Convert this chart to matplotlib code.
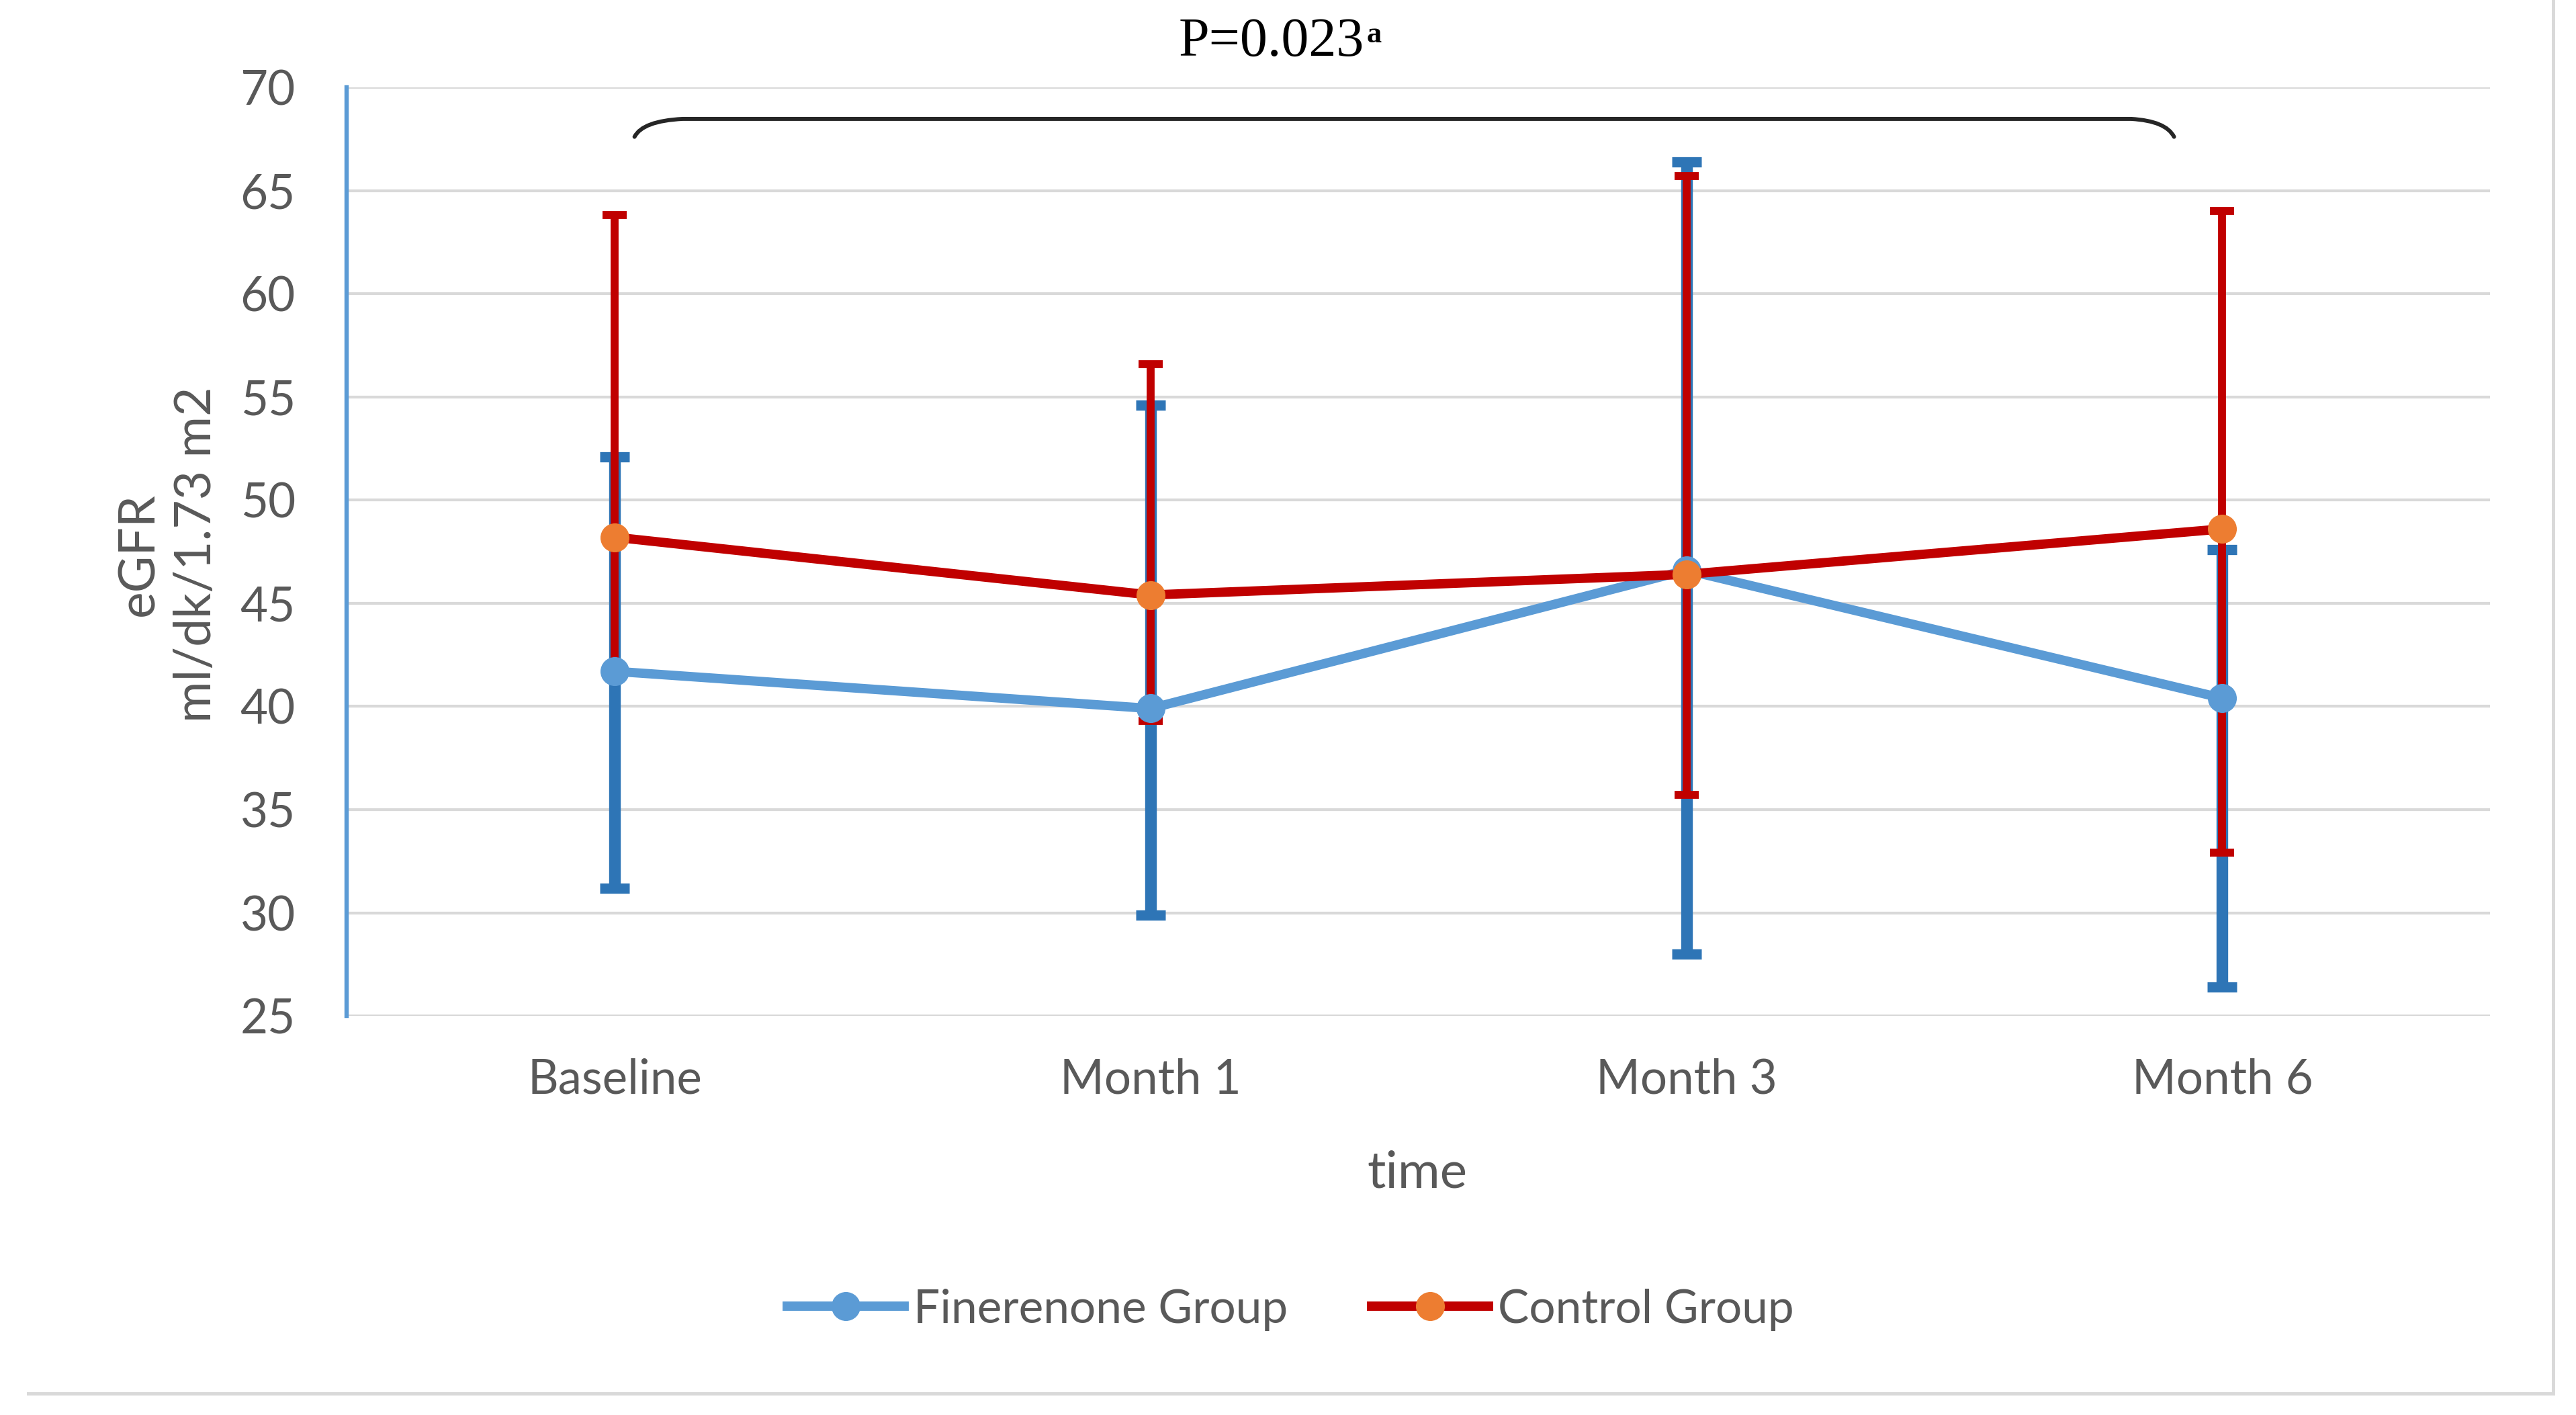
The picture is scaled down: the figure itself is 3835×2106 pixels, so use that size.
import numpy as np
import matplotlib
matplotlib.use("Agg")
import matplotlib.pyplot as plt
from matplotlib.path import Path
from matplotlib.patches import PathPatch
from matplotlib.lines import Line2D

# values (eGFR, ml/dk/1.73 m2)
categories = ["Baseline", "Month 1", "Month 3", "Month 6"]
fin_mean = [41.7, 39.9, 46.6, 40.4]
fin_upper = [52.1, 54.6, 66.4, 47.6]
fin_lower = [31.2, 29.9, 28.0, 26.4]
ctrl_mean = [48.2, 45.4, 46.4, 48.6]
ctrl_upper = [63.8, 56.6, 65.7, 64.0]
ctrl_lower = [41.5, 39.3, 35.7, 32.9]
y_ticks = [25, 30, 35, 40, 45, 50, 55, 60, 65, 70]

TXT = "#595959"
SANS = ["Lato", "DejaVu Sans"]

fig = plt.figure(figsize=(38.35, 21.06), dpi=100)
ax = fig.add_axes([0.1346, 0.282, 0.8321, 0.6563])

x = np.arange(len(categories))
fin_mean = np.array(fin_mean)
ctrl_mean = np.array(ctrl_mean)

# error bars first, then lines on top
ax.errorbar(x, fin_mean, yerr=[fin_mean - np.array(fin_lower), np.array(fin_upper) - fin_mean],
            fmt="none", ecolor="#2E75B6", elinewidth=12.5, capsize=15.5, capthick=11, zorder=2)
ax.errorbar(x, ctrl_mean, yerr=[ctrl_mean - np.array(ctrl_lower), np.array(ctrl_upper) - ctrl_mean],
            fmt="none", ecolor="#C00000", elinewidth=8.5, capsize=13.3, capthick=8.5, zorder=3)

l1, = ax.plot(x, fin_mean, color="#5B9BD5", lw=10, marker="o", markersize=30,
              markerfacecolor="#5B9BD5", markeredgecolor="#5B9BD5", zorder=4)
l2, = ax.plot(x, ctrl_mean, color="#C00000", lw=10, marker="o", markersize=30,
              markerfacecolor="#ED7D31", markeredgecolor="#ED7D31", zorder=5)

ax.set_xlim(-0.5, len(categories) - 0.5)
ax.set_ylim(25, 70)
ax.set_yticks(y_ticks)
ax.set_xticks(x)
ax.set_xticklabels(categories)
ax.yaxis.grid(True, color="#D9D9D9", lw=3)
ax.set_axisbelow(True)
for s in ["top", "right", "bottom"]:
    ax.spines[s].set_visible(False)
ax.spines["left"].set_color("#5B9BD5")
ax.spines["left"].set_linewidth(4.6)
ax.tick_params(axis="both", length=0, labelsize=51, labelcolor=TXT)
ax.tick_params(axis="y", pad=55)
ax.tick_params(axis="x", pad=45)
for lab in ax.get_xticklabels() + ax.get_yticklabels():
    lab.set_family(SANS)

# brace spanning baseline -> month 6
xa, xb = x[0] + 0.037, x[-1] - 0.09
yt, ye = 68.47, 67.6
verts = [(xa, ye), (xa + 0.015, yt - 0.1), (xa + 0.09, yt),
         (xb - 0.08, yt), (xb - 0.015, yt - 0.1), (xb, ye)]
codes = [Path.MOVETO, Path.CURVE3, Path.CURVE3, Path.LINETO, Path.CURVE3, Path.CURVE3]
ax.add_patch(PathPatch(Path(verts, codes), fill=False, edgecolor="#262626", lw=4.3,
                       capstyle="round", zorder=6, clip_on=False))

fig.text(0.4574, 0.9606, "P=0.023", family=["Liberation Serif", "DejaVu Serif"],
         fontsize=59, color="black", ha="left", va="baseline")
fig.text(0.5306, 0.970, "a", family=["Liberation Serif", "DejaVu Serif"],
         fontsize=32, fontweight="bold", color="black", ha="left", va="baseline")

# axis titles
fig.text(250 / 3835, 1 - 825 / 2106, "eGFR\nml/dk/1.73 m2", rotation=90, ha="center", va="center",
         multialignment="center", fontsize=54, color=TXT, family=SANS, linespacing=1.3)
fig.text(2110 / 3835, 1 - 1767 / 2106, "time", ha="center", va="baseline",
         fontsize=55, color=TXT, family=SANS)

fig.legend([l1, l2], ["Finerenone Group", "Control Group"], loc="center",
           bbox_to_anchor=(0.501, 0.0745), ncol=2, frameon=False, handlelength=2.5,
           handletextpad=0.2, columnspacing=1.8, numpoints=1,
           prop={"family": SANS, "size": 50}, labelcolor=TXT)

# chart area border (only right and bottom edges show)
fig.add_artist(Line2D([42 / 3835, 3801 / 3835], [1 - 2074 / 2106, 1 - 2074 / 2106],
                      transform=fig.transFigure, color="#D9D9D9", lw=3.6))
fig.add_artist(Line2D([3801 / 3835, 3801 / 3835], [1 - 2074 / 2106, 1.0],
                      transform=fig.transFigure, color="#D9D9D9", lw=3.6))

fig.savefig("out.png", dpi=100, facecolor="white")
